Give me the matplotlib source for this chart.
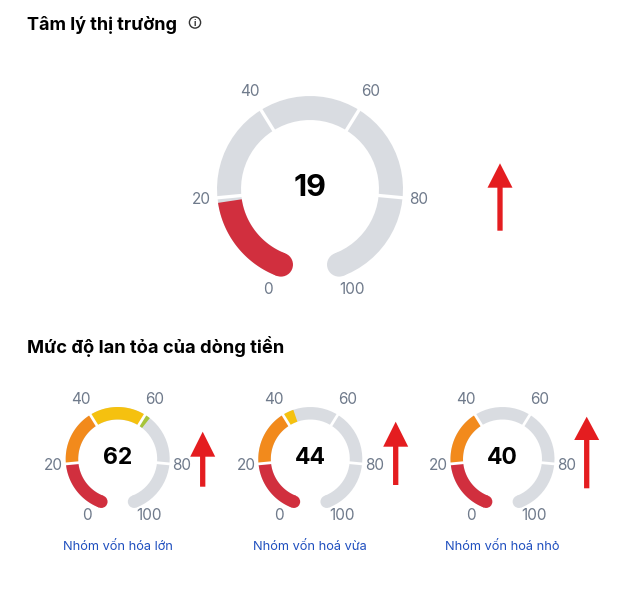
import numpy as np
import matplotlib
matplotlib.use("Agg")
import matplotlib.pyplot as plt
from matplotlib.patches import Polygon, Circle, FancyArrow

plt.rcParams["font.family"] = ["Inter", "DejaVu Sans"]

# data
title_main = "Tâm lý thị trường"
title_groups = "Mức độ lan tỏa của dòng tiền"
main_value = 19
group_names = ["Nhóm vốn hóa lớn", "Nhóm vốn hoá vừa", "Nhóm vốn hoá nhỏ"]
group_values = [62, 44, 40]
tick_values = [0, 20, 40, 60, 80, 100]
seg_colors = ["#d12f3e", "#f28a1c", "#f5c10f", "#a6c43a", "#2ea84f"]

GRAY = "#d9dce1"
TICK_COL = "#6f7a8b"
SWEEP = 318.0

W, H = 623, 595
fig = plt.figure(figsize=(W / 100, H / 100), dpi=100)
ax = fig.add_axes([0, 0, 1, 1])
ax.set_xlim(0, W)
ax.set_ylim(H, 0)
ax.axis("off")


def ang(v):
    return np.radians((v - 50) * SWEEP / 100)


def pt(cx, cy, r, a):
    return cx + r * np.sin(a), cy - r * np.cos(a)


def arc(cx, cy, r_in, r_out, v0, v1, color):
    a = np.linspace(ang(v0), ang(v1), 60)
    xo, yo = pt(cx, cy, r_out, a)
    xi, yi = pt(cx, cy, r_in, a[::-1])
    xy = np.column_stack([np.concatenate([xo, xi]), np.concatenate([yo, yi])])
    ax.add_patch(Polygon(xy, closed=True, fc=color, ec="none"))


def gauge(cx, cy, r_out, r_in, value, num_size, lab_side, lab_top, end_shift, gap_lw):
    r_mid = (r_out + r_in) / 2
    half = (r_out - r_in) / 2
    # background track with rounded ends
    arc(cx, cy, r_in, r_out, 0, 100, GRAY)
    x, y = pt(cx, cy, r_mid, ang(100))
    ax.add_patch(Circle((x, y), half, fc=GRAY, ec="none"))
    # coloured part
    for i, col in enumerate(seg_colors):
        lo, hi = tick_values[i], tick_values[i + 1]
        if value > lo:
            arc(cx, cy, r_in, r_out, lo, min(value, hi), col)
    x, y = pt(cx, cy, r_mid, ang(0))
    ax.add_patch(Circle((x, y), half, fc=seg_colors[0] if value > 0 else GRAY, ec="none"))
    # white separators
    for t in tick_values[1:-1]:
        x0, y0 = pt(cx, cy, r_in - 2, ang(t))
        x1, y1 = pt(cx, cy, r_out + 2, ang(t))
        ax.plot([x0, x1], [y0, y1], color="white", lw=gap_lw, solid_capstyle="butt")
    # tick labels
    for t in tick_values:
        r_lab = r_out + (lab_top if t in (40, 60) else lab_side)
        tv = t
        if t == 0:
            tv = t + end_shift
        elif t == 100:
            tv = t - end_shift
        x, y = pt(cx, cy, r_lab, ang(tv))
        ax.text(x, y, str(t), ha="center", va="center", fontsize=11, color=TICK_COL)
    ax.text(cx, cy - 1, str(value), ha="center", va="center",
            fontsize=num_size, fontweight="bold", color="black")


def arrow(x, y_bottom, y_tip, head_len):
    ax.add_patch(FancyArrow(x, y_bottom, 0, y_tip - y_bottom, width=5.3,
                            head_width=25, head_length=head_len,
                            length_includes_head=True, fc="#e41d20", ec="none"))


# section 1
ax.text(27, 30, title_main, ha="left", va="baseline", fontsize=13,
        fontweight="bold", color="black")
ax.add_patch(Circle((195, 22.5), 5.6, fc="none", ec="#333333", lw=1.0))
ax.text(195, 23, "i", ha="center", va="center", fontsize=6.5, color="#333333",
        fontweight="bold")

gauge(310, 189, 93, 69, main_value, 22, 16, 21.5, 0.5, 2.4)
arrow(500, 230.7, 163.3, 24.4)

# section 2
ax.text(27, 353, title_groups, ha="left", va="baseline", fontsize=13.2,
        fontweight="bold", color="black")

centers = [117.7, 310.3, 502.5]
arrows = [(202.7, 486.7, 431.7, 25), (395.7, 485, 421.7, 25), (586.7, 488.3, 416.7, 23.3)]
for cx, val, name, ar in zip(centers, group_values, group_names, arrows):
    gauge(cx, 459, 52, 39.5, val, 16.5, 12.5, 18, 2.5, 2.0)
    ax.text(cx, 547, name, ha="center", va="center", fontsize=9.2, color="#1f4fbf")
    arrow(*ar)

fig.savefig("out.png", dpi=100)
